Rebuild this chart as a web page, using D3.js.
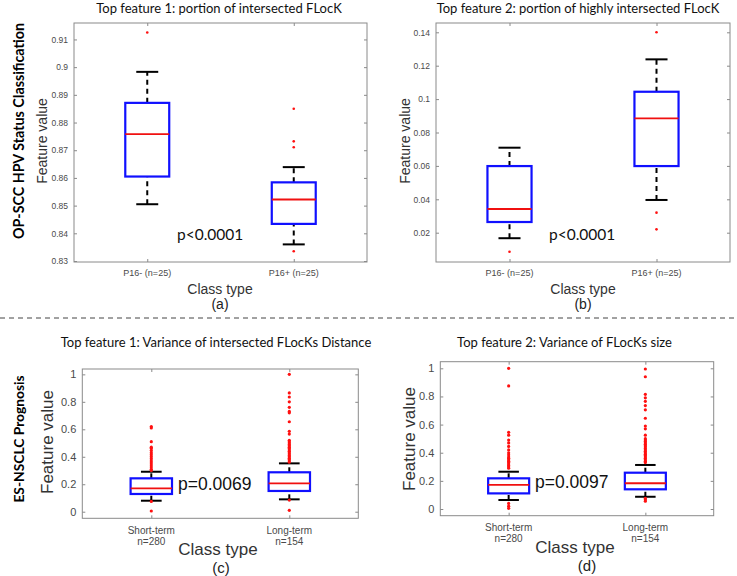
<!DOCTYPE html>
<html><head><meta charset="utf-8">
<script src="https://cdn.jsdelivr.net/npm/d3@7"></script>
<style>
html,body{margin:0;padding:0;background:#fff;}
svg{display:block;}
</style></head>
<body>
<svg id="chart" width="737" height="576"></svg>
<script>
// ---------- DATA ----------
// stats per category: [lower whisker, Q1, median, Q3, upper whisker]
const catsA = ["P16- (n=25)", "P16+ (n=25)"];
const statsA = [[0.8505, 0.8605, 0.8758, 0.8871, 0.8983], [0.8360, 0.8434, 0.8522, 0.8584, 0.8639]];
const outliersA = [[0.9125], [0.885, 0.8732, 0.8711, 0.8335]];
const ticksA = [0.83, 0.84, 0.85, 0.86, 0.87, 0.88, 0.89, 0.9, 0.91];
const titleA = "Top feature 1: portion of intersected FLocK";
const pA = "p<0.0001";

const catsB = ["P16- (n=25)", "P16+ (n=25)"];
const statsB = [[0.0167, 0.0264, 0.0342, 0.0599, 0.0709], [0.0396, 0.0599, 0.0885, 0.1044, 0.1238]];
const outliersB = [[0.0086], [0.140, 0.032, 0.022]];
const ticksB = [0.02, 0.04, 0.06, 0.08, 0.1, 0.12, 0.14];
const titleB = "Top feature 2: portion of highly intersected FLocK";
const pB = "p<0.0001";

const catsC = ["Short-term\nn=280", "Long-term\nn=154"];
const statsC = [[0.080, 0.129, 0.170, 0.243, 0.291], [0.090, 0.151, 0.207, 0.287, 0.352]];
const outliersC = [
  [0.62, 0.61, 0.51, 0.47, 0.46, 0.445, 0.43, 0.415, 0.40, 0.385, 0.37, 0.355, 0.34, 0.325, 0.31, 0.30, 0.075, 0.005],
  [1.0, 0.865, 0.835, 0.80, 0.76, 0.73, 0.72, 0.655, 0.585, 0.565, 0.52, 0.51, 0.50, 0.49, 0.48, 0.47, 0.46, 0.45, 0.44, 0.43, 0.42, 0.41, 0.40, 0.39, 0.38, 0.37, 0.36, 0.085, 0.01]
];
const ticksC = [0, 0.2, 0.4, 0.6, 0.8, 1];
const titleC = "Top feature 1: Variance of intersected FLocKs Distance";
const pC = "p=0.0069";

const catsD = ["Short-term\nn=280", "Long-term\nn=154"];
const statsD = [[0.064, 0.111, 0.171, 0.218, 0.265], [0.087, 0.140, 0.183, 0.258, 0.313]];
const outliersD = [
  [1.0, 0.875, 0.545, 0.525, 0.49, 0.47, 0.445, 0.42, 0.40, 0.385, 0.37, 0.36, 0.35, 0.34, 0.33, 0.32, 0.31, 0.30, 0.29, 0.04, 0.02, 0.005],
  [0.995, 0.94, 0.815, 0.79, 0.765, 0.735, 0.705, 0.645, 0.59, 0.57, 0.525, 0.50, 0.49, 0.48, 0.47, 0.46, 0.45, 0.44, 0.43, 0.42, 0.41, 0.40, 0.39, 0.38, 0.37, 0.36, 0.35, 0.34, 0.33, 0.075, 0.065, 0.055]
];
const ticksD = [0, 0.2, 0.4, 0.6, 0.8, 1];
const titleD = "Top feature 2: Variance of FLocKs size";
const pD = "p=0.0097";

const rowLabels = ["OP-SCC HPV Status Classification", "ES-NSCLC Prognosis"];
const panelLetters = ["(a)", "(b)", "(c)", "(d)"];
const yLabel = "Feature value";
const xLabel = "Class type";

// ---------- DRAW ----------
const svg = d3.select("#chart");
svg.append("rect").attr("width", 737).attr("height", 576).attr("fill", "#fff");

const CAL = "Lato, 'Open Sans', sans-serif";
const ARI = "'Liberation Sans', Arial, sans-serif";

function panel(c) {
  const g = svg.append("g");
  const y = d3.scaleLinear().domain(c.domain).range([c.y1, c.y0]);
  const x = d3.scalePoint().domain(c.cats).range([c.x0, c.x1]).padding(0.5);
  const bw = x.step() * 0.3;
  const fmt = d => String(+d.toFixed(4));

  // axes
  const axL = g.append("g").attr("transform", `translate(${c.x0},0)`)
    .call(d3.axisLeft(y).tickValues(c.ticks).tickSize(-3).tickPadding(6).tickFormat(fmt));
  const axR = g.append("g").attr("transform", `translate(${c.x1},0)`)
    .call(d3.axisRight(y).tickValues(c.ticks).tickSize(-3).tickFormat(""));
  const axB = g.append("g").attr("transform", `translate(0,${c.y1})`)
    .call(d3.axisBottom(x).tickSize(-3).tickPadding(8).tickFormat(""));
  const axT = g.append("g").attr("transform", `translate(0,${c.y0})`)
    .call(d3.axisTop(x).tickSize(-3).tickFormat(""));
  [axL, axR, axB, axT].forEach(a => {
    a.select(".domain").remove();
    a.selectAll(".tick line").attr("stroke", "#8a8a8a").attr("stroke-width", 1);
  });
  axL.selectAll(".tick text").attr("font-family", ARI).attr("font-size", c.tickFs)
    .attr("fill", "#4a4a4a");
  g.append("rect").attr("x", c.x0).attr("y", c.y0).attr("width", c.x1 - c.x0)
    .attr("height", c.y1 - c.y0).attr("fill", "none").attr("stroke", "#8a8a8a").attr("stroke-width", 1);

  // x category labels (multi-line)
  c.cats.forEach((cat, i) => {
    const t = g.append("text").attr("text-anchor", "middle")
      .attr("font-family", ARI).attr("font-size", c.xtickFs).attr("fill", "#4a4a4a");
    cat.split("\n").forEach((line, k) => {
      t.append("tspan").attr("x", x(cat)).attr("y", c.xtickY + k * c.xtickLH).text(line);
    });
  });

  // boxes
  c.cats.forEach((cat, i) => {
    const [lo, q1, med, q3, hi] = c.stats[i];
    const cx = x(cat);
    const bg = g.append("g");
    [[q3, hi], [lo, q1]].forEach(([a, b]) => {
      bg.append("line").attr("x1", cx).attr("x2", cx).attr("y1", y(a)).attr("y2", y(b))
        .attr("stroke", "#000").attr("stroke-width", 2).attr("stroke-dasharray", "5,4");
    });
    [lo, hi].forEach(v => {
      bg.append("line").attr("x1", cx - bw / 4).attr("x2", cx + bw / 4).attr("y1", y(v)).attr("y2", y(v))
        .attr("stroke", "#000").attr("stroke-width", 2);
    });
    bg.append("rect").attr("x", cx - bw / 2).attr("width", bw)
      .attr("y", y(q3)).attr("height", y(q1) - y(q3))
      .attr("fill", "none").attr("stroke", "#1010ff").attr("stroke-width", 2.2);
    bg.append("line").attr("x1", cx - bw / 2).attr("x2", cx + bw / 2).attr("y1", y(med)).attr("y2", y(med))
      .attr("stroke", "#f01010").attr("stroke-width", 1.8);
    bg.selectAll("circle.o").data(c.outliers[i]).enter().append("circle")
      .attr("cx", cx).attr("cy", d => y(d)).attr("r", c.dotR).attr("fill", "#ff1010");
  });

  // titles and labels
  g.append("text").attr("x", c.titleX).attr("y", c.titleY).attr("text-anchor", "middle")
    .attr("font-family", CAL).attr("font-size", c.titleFs).attr("fill", "#111").text(c.title);
  g.append("text").attr("transform", `translate(${c.ylabX},${c.ylabY}) rotate(-90)`)
    .attr("text-anchor", "middle").attr("dominant-baseline", "central")
    .attr("font-family", ARI).attr("font-size", c.ylabFs).attr("fill", "#333").text(yLabel);
  g.append("text").attr("x", c.xlabX).attr("y", c.xlabY).attr("text-anchor", "middle")
    .attr("font-family", ARI).attr("font-size", c.xlabFs).attr("fill", "#333").text(xLabel);
  g.append("text").attr("x", c.letX).attr("y", c.letY).attr("text-anchor", "middle")
    .attr("font-family", ARI).attr("font-size", c.letFs).attr("fill", "#222").text(c.letter);
  g.append("text").attr("x", c.pX).attr("y", c.pY)
    .attr("font-family", c.pFont).attr("font-size", c.pFs).attr("fill", "#111").text(c.p);
}

panel({x0: 74, x1: 367, y0: 23, y1: 262, domain: [0.82964, 0.91594], ticks: ticksA,
  cats: catsA, stats: statsA, outliers: outliersA, tickFs: 8.5, xtickFs: 9, xtickY: 276, xtickLH: 10,
  dotR: 1.3, title: titleA, titleX: 219, titleY: 13, titleFs: 13,
  ylabX: 42, ylabY: 141, ylabFs: 14, xlabX: 220, xlabY: 294, xlabFs: 14, letX: 220, letY: 309, letFs: 14, letter: panelLetters[0],
  p: pA, pX: 177, pY: 240, pFs: 15.5, pFont: CAL});

panel({x0: 436, x1: 730, y0: 23, y1: 262, domain: [0.002455, 0.14557], ticks: ticksB,
  cats: catsB, stats: statsB, outliers: outliersB, tickFs: 8.5, xtickFs: 9, xtickY: 276, xtickLH: 10,
  dotR: 1.3, title: titleB, titleX: 578, titleY: 13, titleFs: 13,
  ylabX: 405, ylabY: 141, ylabFs: 14, xlabX: 583, xlabY: 294, xlabFs: 14, letX: 583, letY: 309, letFs: 14, letter: panelLetters[1],
  p: pB, pX: 549, pY: 240, pFs: 15.5, pFont: CAL});

panel({x0: 82.3, x1: 358.3, y0: 369, y1: 518.3, domain: [-0.048, 1.039], ticks: ticksC,
  cats: catsC, stats: statsC, outliers: outliersC, tickFs: 11, xtickFs: 10, xtickY: 534, xtickLH: 10.5,
  dotR: 1.6, title: titleC, titleX: 216, titleY: 347, titleFs: 13,
  ylabX: 47, ylabY: 442, ylabFs: 17, xlabX: 218, xlabY: 554.5, xlabFs: 17, letX: 221, letY: 572.5, letFs: 15, letter: panelLetters[2],
  p: pC, pX: 178, pY: 490, pFs: 17.5, pFont: ARI});

panel({x0: 440.3, x1: 713.7, y0: 361.7, y1: 515.7, domain: [-0.0476, 1.047], ticks: ticksD,
  cats: catsD, stats: statsD, outliers: outliersD, tickFs: 11, xtickFs: 10, xtickY: 531, xtickLH: 10.5,
  dotR: 1.6, title: titleD, titleX: 564.5, titleY: 347, titleFs: 13,
  ylabX: 409, ylabY: 439, ylabFs: 17, xlabX: 575, xlabY: 553, xlabFs: 17, letX: 587, letY: 571, letFs: 15, letter: panelLetters[3],
  p: pD, pX: 535, pY: 488, pFs: 17.5, pFont: ARI});

// row labels
svg.append("text").attr("transform", "translate(18,131) rotate(-90)")
  .attr("text-anchor", "middle").attr("dominant-baseline", "central")
  .attr("font-family", CAL).attr("font-weight", "bold").attr("font-size", 14.3).attr("fill", "#000").text(rowLabels[0]);
svg.append("text").attr("transform", "translate(18,439) rotate(-90)")
  .attr("text-anchor", "middle").attr("dominant-baseline", "central")
  .attr("font-family", CAL).attr("font-weight", "bold").attr("font-size", 13.8).attr("fill", "#000").text(rowLabels[1]);

// separator
svg.append("line").attr("x1", 0).attr("x2", 737).attr("y1", 318).attr("y2", 318)
  .attr("stroke", "#444").attr("stroke-width", 1).attr("stroke-dasharray", "5,4");
</script>
</body></html>
